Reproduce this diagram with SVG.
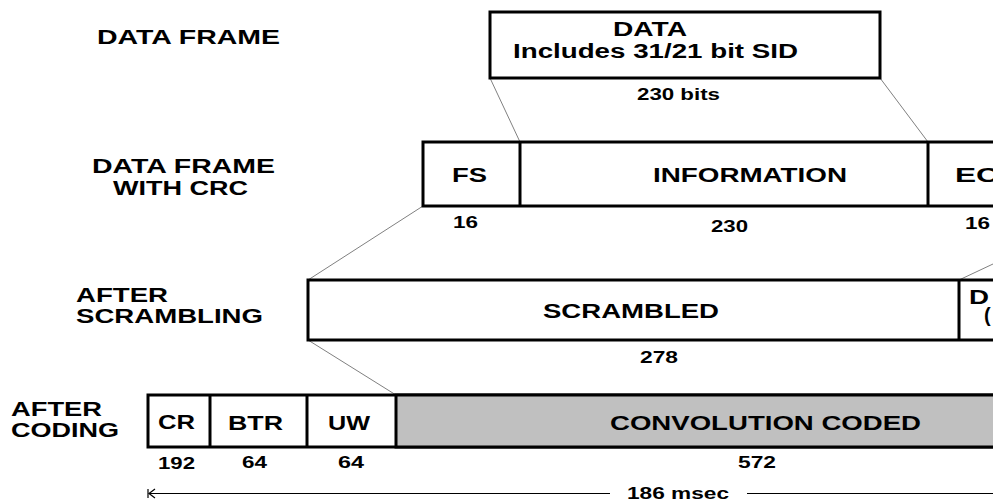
<svg xmlns="http://www.w3.org/2000/svg" width="993" height="504" viewBox="0 0 993 504">
<style>
  .lbl { font-family: "Liberation Sans", Arial, sans-serif; font-weight: bold; font-size: 21px; fill: #000; }
  .box { font-family: "Liberation Sans", Arial, sans-serif; font-weight: bold; font-size: 20px; fill: #000; }
  .num { font-family: "Liberation Sans", Arial, sans-serif; font-weight: bold; font-size: 16.5px; fill: #000; }
  .frame { fill: #fff; stroke: #000; stroke-width: 3; }
  .gray { fill: #c0c0c0; stroke: #000; stroke-width: 3; }
  .div { stroke: #000; stroke-width: 3; }
  .conn { stroke: #808080; stroke-width: 1; fill: none; }
  .dim { stroke: #000; stroke-width: 1.2; fill: none; }
</style>
<rect width="993" height="504" fill="#fff"/>

<g id="labels">
  <text class="lbl" x="97" y="44" textLength="183" lengthAdjust="spacingAndGlyphs">DATA FRAME</text>
  <text class="lbl" x="92" y="173" textLength="183" lengthAdjust="spacingAndGlyphs">DATA FRAME</text>
  <text class="lbl" x="113" y="195" textLength="135" lengthAdjust="spacingAndGlyphs">WITH CRC</text>
  <text class="lbl" x="76" y="302" textLength="92" lengthAdjust="spacingAndGlyphs">AFTER</text>
  <text class="lbl" x="76" y="323" textLength="187" lengthAdjust="spacingAndGlyphs">SCRAMBLING</text>
  <text class="lbl" x="11" y="416" textLength="91" lengthAdjust="spacingAndGlyphs">AFTER</text>
  <text class="lbl" x="11" y="437" textLength="108" lengthAdjust="spacingAndGlyphs">CODING</text>
</g>

<g id="connectors">
  <line class="conn" x1="490" y1="78" x2="520" y2="142"/>
  <line class="conn" x1="880" y1="78" x2="928" y2="142"/>
  <line class="conn" x1="423" y1="206" x2="308" y2="280"/>
  <line class="conn" x1="959" y1="280" x2="1010" y2="256"/>
  <line class="conn" x1="308" y1="340" x2="396" y2="395"/>
</g>

<g id="data-frame">
  <rect class="frame" x="490" y="12" width="390" height="66"/>
  <text class="box" x="613" y="36" textLength="74" lengthAdjust="spacingAndGlyphs">DATA</text>
  <text class="box" x="513" y="58" textLength="285" lengthAdjust="spacingAndGlyphs">Includes 31/21 bit SID</text>
  <text class="num" x="637" y="100" textLength="83" lengthAdjust="spacingAndGlyphs">230 bits</text>
</g>

<g id="crc-frame">
  <rect class="frame" x="423" y="142" width="590" height="64"/>
  <line class="div" x1="520" y1="142" x2="520" y2="206"/>
  <line class="div" x1="928" y1="142" x2="928" y2="206"/>
  <text class="box" x="452" y="182" textLength="35" lengthAdjust="spacingAndGlyphs">FS</text>
  <text class="box" x="653" y="182" textLength="194" lengthAdjust="spacingAndGlyphs">INFORMATION</text>
  <text class="box" x="955" y="182" textLength="44" lengthAdjust="spacingAndGlyphs">EC</text>
  <text class="num" x="453" y="228" textLength="25" lengthAdjust="spacingAndGlyphs">16</text>
  <text class="num" x="711" y="232" textLength="37" lengthAdjust="spacingAndGlyphs">230</text>
  <text class="num" x="965" y="229" textLength="25" lengthAdjust="spacingAndGlyphs">16</text>
</g>

<g id="scrambled-frame">
  <rect class="frame" x="308" y="280" width="705" height="60"/>
  <line class="div" x1="959" y1="280" x2="959" y2="340"/>
  <text class="box" x="543" y="318" textLength="176" lengthAdjust="spacingAndGlyphs">SCRAMBLED</text>
  <text class="box" x="969" y="304" textLength="20" lengthAdjust="spacingAndGlyphs">D</text>
  <text class="box" x="984" y="322">(</text>
  <text class="num" x="640" y="363" textLength="38" lengthAdjust="spacingAndGlyphs">278</text>
</g>

<g id="coded-frame">
  <rect class="frame" x="148" y="395" width="865" height="52"/>
  <rect class="gray" x="396" y="395" width="617" height="52"/>
  <line class="div" x1="210" y1="395" x2="210" y2="447"/>
  <line class="div" x1="307" y1="395" x2="307" y2="447"/>
  <text class="box" x="158" y="429" textLength="37" lengthAdjust="spacingAndGlyphs">CR</text>
  <text class="box" x="228" y="430" textLength="55" lengthAdjust="spacingAndGlyphs">BTR</text>
  <text class="box" x="328" y="430" textLength="42" lengthAdjust="spacingAndGlyphs">UW</text>
  <text class="box" x="610" y="430" textLength="311" lengthAdjust="spacingAndGlyphs">CONVOLUTION CODED</text>
  <text class="num" x="158" y="469" textLength="37" lengthAdjust="spacingAndGlyphs">192</text>
  <text class="num" x="242" y="468" textLength="25" lengthAdjust="spacingAndGlyphs">64</text>
  <text class="num" x="338" y="468" textLength="26" lengthAdjust="spacingAndGlyphs">64</text>
  <text class="num" x="738" y="468" textLength="38" lengthAdjust="spacingAndGlyphs">572</text>
</g>

<g id="duration">
  <line class="dim" x1="148" y1="489" x2="148" y2="498"/>
  <polyline class="dim" points="155,489 149,493.5 155,498"/>
  <line class="dim" x1="149" y1="493.5" x2="610" y2="493.5"/>
  <line class="dim" x1="747" y1="493.5" x2="993" y2="493.5"/>
  <text class="num" x="627" y="499" textLength="102" lengthAdjust="spacingAndGlyphs">186 msec</text>
</g>
</svg>
